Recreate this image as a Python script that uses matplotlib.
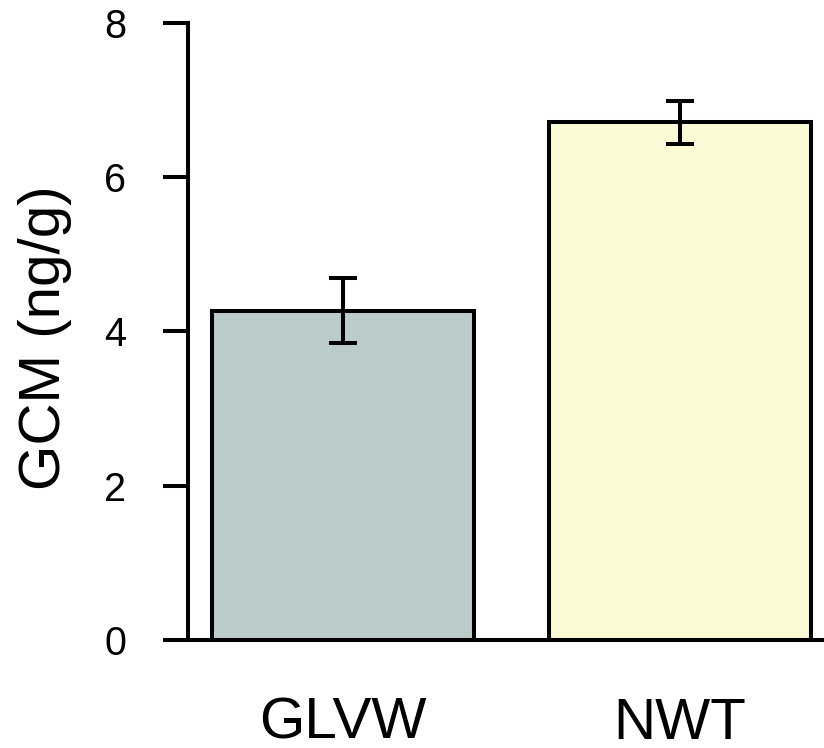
import matplotlib
matplotlib.use("Agg")
import matplotlib.pyplot as plt

categories = ["GLVW", "NWT"]
means = [4.27, 6.71]
errors = [0.42, 0.28]
colors = ["#BCCCCB", "#FAFAD4"]
yticks = [0, 2, 4, 6, 8]

plt.rcParams['font.family'] = ['Liberation Sans', 'DejaVu Sans']

W, H = 824, 748
fig = plt.figure(figsize=(W/100, H/100), dpi=100)
left, right, bottom, top = 188, 824, 640, 22.7
ax = fig.add_axes([left/W, 1-bottom/H, (right-left)/W, (bottom-top)/H])

x = list(range(len(categories)))
lw = 2.9
ax.bar(x, means, width=0.775, color=colors, edgecolor="black", linewidth=lw, zorder=2)
ax.errorbar(x, means, yerr=errors, fmt="none", ecolor="black", elinewidth=lw,
            capsize=10, capthick=lw, zorder=3, clip_on=False)
ax.axhline(0, color="black", linewidth=lw, zorder=4, clip_on=False)

ax.set_xlim(-0.46, 1.427)
ax.set_ylim(0, 8)
ax.set_yticks(yticks)
ax.set_yticklabels([str(v) for v in yticks], fontsize=28.5)
ax.set_xticks(x)
ax.set_xticklabels(categories, fontsize=42)
ax.tick_params(axis="x", length=0, pad=41)
ax.tick_params(axis="y", length=18, width=lw, pad=26.5)

for s in ["top", "right", "bottom"]:
    ax.spines[s].set_visible(False)
ax.spines["left"].set_linewidth(lw)
ax.spines["left"].set_capstyle("projecting")

fig.text(45/W, 1-338/H, "GCM (ng/g)", rotation=90, fontsize=42, ha="center", va="center")

fig.savefig("out.png", dpi=100)
